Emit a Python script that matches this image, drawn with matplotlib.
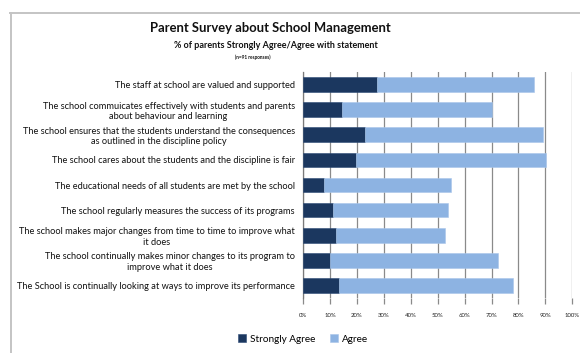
import matplotlib
matplotlib.use("Agg")
import matplotlib.pyplot as plt
from matplotlib.lines import Line2D
from matplotlib.ticker import PercentFormatter

plt.rcParams['font.family'] = ['Lato', 'DejaVu Sans']

statements = [
    "The staff at school are valued and supported",
    "The school commuicates effectively with students and parents\nabout behaviour and learning",
    "The school ensures that the students understand the consequences\nas outlined in the discipline policy",
    "The school cares about the students and the discipline is fair",
    "The educational needs of all students are met by the school",
    "The school regularly measures the success of its programs",
    "The school makes major changes from time to time to improve what\nit does",
    "The school continually makes minor changes to its program to\nimprove what it does",
    "The School is continually looking at ways to improve its performance",
]
strongly_agree = [27.5, 14.3, 23.1, 19.8, 7.7, 11.0, 12.1, 9.9, 13.2]
agree = [58.2, 56.0, 65.9, 70.3, 47.3, 42.9, 40.7, 62.6, 64.8]
xticks = [0, 10, 20, 30, 40, 50, 60, 70, 80, 90, 100]

dark = "#1b375f"
light = "#8db3e2"

fig = plt.figure(figsize=(5.8, 3.53), dpi=100)

# outer chart frame (top and left edges)
fig.add_artist(Line2D([10 / 580, 1.0], [1 - 13 / 353] * 2, transform=fig.transFigure,
                      color="#c4c4c4", lw=1.4))
fig.add_artist(Line2D([11 / 580] * 2, [0.0, 1 - 13 / 353], transform=fig.transFigure,
                      color="#c4c4c4", lw=1.4))

ax = fig.add_axes([303 / 580, 1 - 298 / 353, (572.3 - 303) / 580, (298 - 72) / 353])

ypos = list(range(len(statements)))
ax.barh(ypos, strongly_agree, height=0.58, color=dark, edgecolor="#2c4a75", lw=0.4,
        label="Strongly Agree", zorder=3)
ax.barh(ypos, agree, left=strongly_agree, height=0.58, color=light, edgecolor="#a9c6ea",
        lw=0.4, label="Agree", zorder=3)

ax.set_ylim(len(statements) - 0.5, -0.5)
ax.set_xlim(0, 100)
ax.set_xticks(xticks)
ax.xaxis.set_major_formatter(PercentFormatter(decimals=0))
ax.grid(axis="x", color="#8a8a8a", lw=0.9, zorder=0)
ax.set_yticks(ypos)
ax.set_yticklabels(statements, fontsize=6.65, multialignment="center", color="#111111")
ax.tick_params(axis="y", length=0, pad=6)
ax.tick_params(axis="x", length=4, width=0.9, color="#8a8a8a", labelsize=4.3, pad=7,
               labelcolor="#222222")
for s in ["top", "right", "bottom"]:
    ax.spines[s].set_visible(False)
ax.spines["left"].set_color("#7a7a7a")
ax.spines["left"].set_linewidth(0.9)

fig.text(270 / 580, 1 - 28 / 353, "Parent Survey about School Management", ha="center",
         va="center", fontsize=9.4, fontweight="bold", color="#111111")
fig.text(276 / 580, 1 - 46 / 353, "% of parents Strongly Agree/Agree with statement",
         ha="center", va="center", fontsize=6.5, fontweight="bold", color="#111111")
fig.text(253 / 580, 1 - 57 / 353, "(n=91 responses)", ha="center", va="center",
         fontsize=3.4, fontweight="bold", color="#111111")

fig.legend(loc="center", bbox_to_anchor=(303 / 580, 1 - 339 / 353), ncol=2, frameon=False,
           fontsize=7.2, handlelength=0.8, handleheight=0.8, handletextpad=0.4,
           columnspacing=1.5)

fig.savefig("out.png", dpi=100, facecolor="white")
